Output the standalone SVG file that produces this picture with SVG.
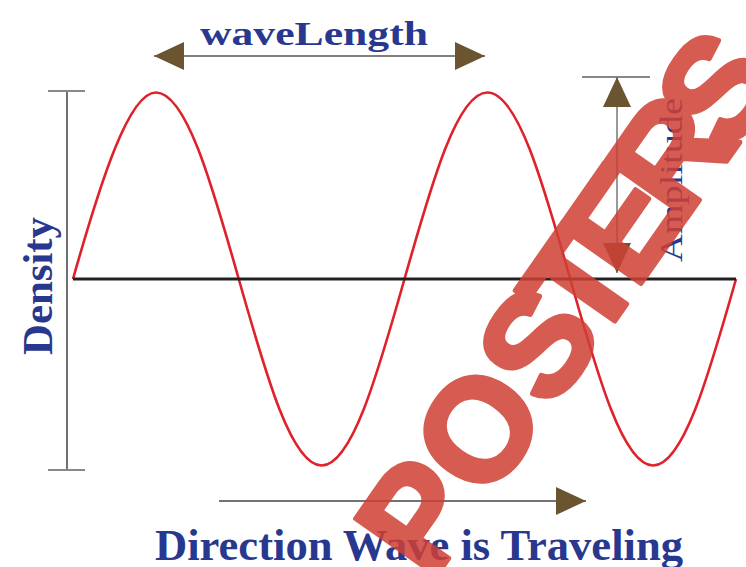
<svg xmlns="http://www.w3.org/2000/svg" width="746" height="567" viewBox="0 0 746 567">
<style>
  .lbl { font-family: "Liberation Serif", "Times New Roman", serif; fill: #29388f; }
  .b { font-weight: bold; }
  .conn { fill: none; stroke-width: 1.5; }
  .cap { stroke: #888; stroke-width: 2; }
  .wm { font-family: "Liberation Sans", Arial, sans-serif; font-weight: bold; fill: #cf4035; stroke: #cf4035; stroke-width: 5; stroke-linejoin: round; opacity: 0.85; }
</style>
<defs>
  <marker id="ah" viewBox="0 0 30 28" refX="30" refY="14" markerWidth="30" markerHeight="28" markerUnits="userSpaceOnUse" orient="auto-start-reverse">
    <path d="M0,0 L30,14 L0,28 Z" fill="#6a5530"/>
  </marker>
</defs>
<rect width="746" height="567" fill="#ffffff"/>

<g id="density-axis">
  <line x1="67" y1="91" x2="67" y2="470" stroke="#111" stroke-width="1.2"/>
  <line class="cap" x1="48" y1="91" x2="85" y2="91"/>
  <line class="cap" x1="48" y1="470" x2="85" y2="470"/>
</g>

<g id="wave">
  <path d="M73,279 C100.7,181.07 128.93,92.5 155.88,92.5 C185.7,92.5 211.05,181.07 238.75,279 C266.45,376.93 291.8,465.5 321.63,465.5 C351.46,465.5 376.8,376.93 404.5,279 C432.2,181.07 457.55,92.5 487.38,92.5 C517.2,92.5 542.55,181.07 570.25,279 C597.95,376.93 623.3,465.5 653.13,465.5 C682.96,465.5 708.3,376.93 736,279" fill="none" stroke="#e0202a" stroke-width="2.6"/>
</g>

<g id="baseline">
  <line x1="73" y1="279" x2="736" y2="279" stroke="#222" stroke-width="3"/>
</g>

<g id="connectors">
  <line class="conn" x1="154" y1="56" x2="485" y2="56" stroke="#555" marker-start="url(#ah)" marker-end="url(#ah)"/>
  <line x1="582" y1="77" x2="650" y2="77" stroke="#111" stroke-width="1.2"/>
  <line class="conn" x1="617" y1="77" x2="617" y2="273" stroke="#777" marker-start="url(#ah)" marker-end="url(#ah)"/>
  <line class="conn" x1="219" y1="501" x2="586" y2="501" stroke="#444" marker-end="url(#ah)"/>
</g>

<g id="label-wavelength">
  <text class="lbl b" x="200" y="45" font-size="34" textLength="228" lengthAdjust="spacingAndGlyphs">waveLength</text>
</g>
<g id="label-density">
  <text class="lbl b" transform="translate(52,286) rotate(-90)" x="0" y="0" text-anchor="middle" font-size="43" textLength="138" lengthAdjust="spacingAndGlyphs">Density</text>
</g>
<g id="label-amplitude">
  <text class="lbl" transform="translate(682,180) rotate(-90)" x="0" y="0" text-anchor="middle" font-size="32" textLength="164" lengthAdjust="spacingAndGlyphs">Amplitude</text>
</g>
<g id="label-direction">
  <text class="lbl b" x="155" y="560" font-size="44" textLength="528" lengthAdjust="spacingAndGlyphs">Direction Wave is Traveling</text>
</g>

<g id="watermark">
  <text class="wm" transform="translate(477,428) rotate(-55)" x="-153.5 -56 56 133 203 284 368" y="51.5" font-size="144">POSTERS</text>
</g>
</svg>
